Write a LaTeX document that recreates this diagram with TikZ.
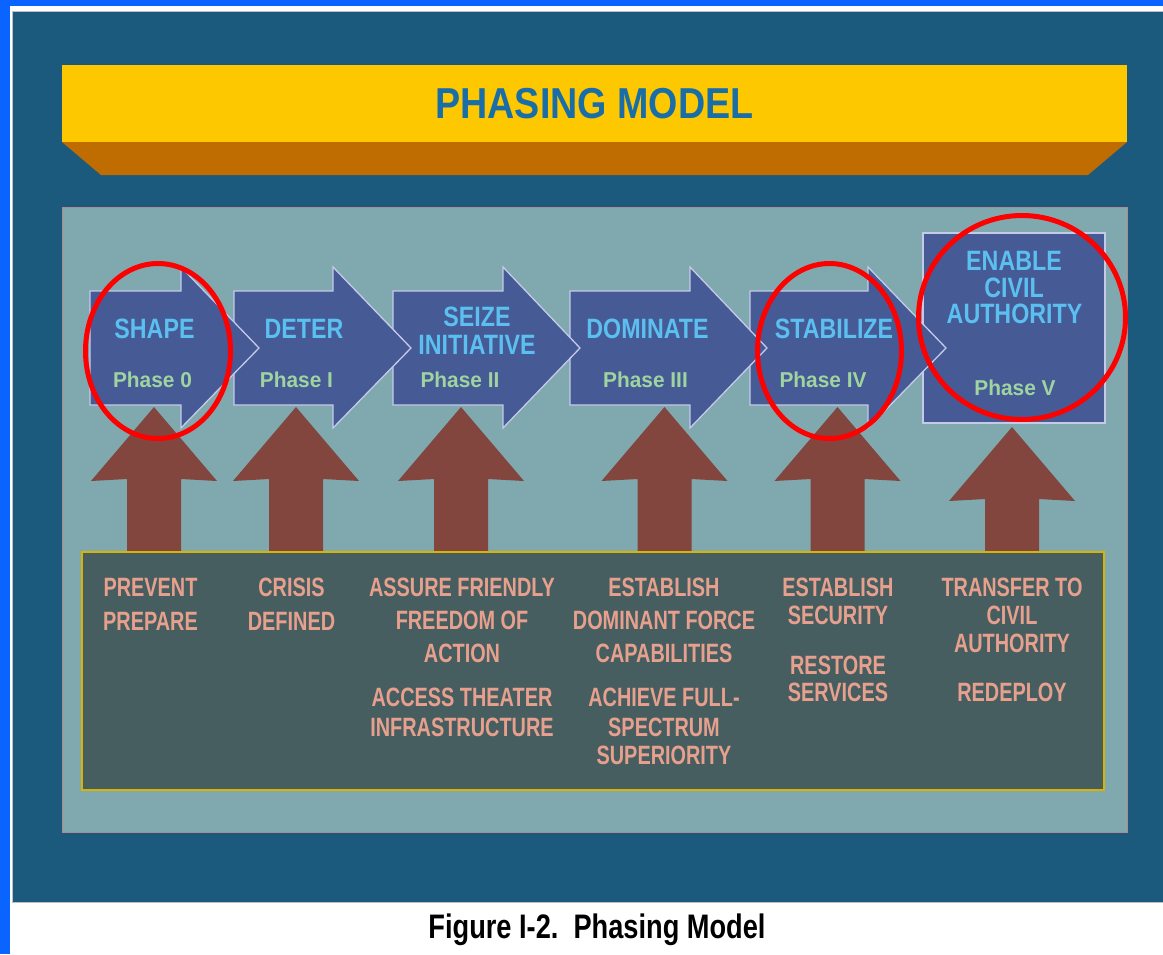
\documentclass[tikz,border=0pt]{standalone}
\usepackage{fontspec}
\setmainfont{Liberation Sans}
\newfontfamily\ftitle[FakeStretch=0.87]{Liberation Sans}
\newfontfamily\ftop[FakeStretch=0.83]{Liberation Sans}
\newfontfamily\fphase[FakeStretch=0.97]{Liberation Sans}
\newfontfamily\fbot[FakeStretch=0.75]{Liberation Sans}
\newfontfamily\fcap[FakeStretch=0.80]{Liberation Sans}
\definecolor{outerblue}{HTML}{0A64FF}
\definecolor{panel}{HTML}{1B5A7D}
\definecolor{banner}{HTML}{FEC800}
\definecolor{bannerside}{HTML}{BF6C00}
\definecolor{lteal}{HTML}{7FA9AE}
\definecolor{ltealedge}{HTML}{B08A8E}
\definecolor{darkbox}{HTML}{465E5F}
\definecolor{darkboxedge}{HTML}{D8B400}
\definecolor{arrowfill}{HTML}{465A96}
\definecolor{arrowedge}{HTML}{C4CAE8}
\definecolor{brownarrow}{HTML}{82463F}
\definecolor{ringred}{HTML}{FF0000}
\definecolor{phasename}{HTML}{5BBFEF}
\definecolor{phasenum}{HTML}{9FD4A0}
\definecolor{salmon}{HTML}{E8A08E}
\definecolor{titleblue}{HTML}{1A6EA8}
\tikzset{
  bluearrow/.style={fill=arrowfill, draw=arrowedge, line width=1.3pt, line join=miter},
  brownup/.style={fill=brownarrow},
  ring/.style={draw=ringred, line width=5pt},
  nametext/.style={inner sep=0pt, anchor=base, text=phasename, font=\ftop\bfseries\fontsize{28}{28}\selectfont},
  numtext/.style={inner sep=0pt, anchor=base, text=phasenum, font=\fphase\bfseries\fontsize{21.5}{21.5}\selectfont},
  bottext/.style={inner sep=0pt, anchor=base, text=salmon, font=\fbot\bfseries\fontsize{26.5}{26.5}\selectfont},
}
\newcommand\phBlueArrow[3]{\filldraw[bluearrow] (#1,291) -- (#2,291) -- (#2,267) -- (#3,348) -- (#2,428) -- (#2,405) -- (#1,405) -- cycle;}
\newcommand\phBrownArrow[3]{\fill[brownup] (#1,#2) -- ({#1+63},#3) -- ({#1+27},{#3-2}) -- ({#1+27},552) -- ({#1-27},552) -- ({#1-27},{#3-2}) -- ({#1-63},#3) -- cycle;}
\begin{document}
\begin{tikzpicture}[x=1pt,y=-1pt]
\useasboundingbox (0,0) rectangle (1163,954);
\fill[white] (0,0) rectangle (1163,954);
\fill[outerblue] (0,0) rectangle (10,954);
\fill[outerblue] (0,0) rectangle (1163,6);
\fill[panel] (12,11) rectangle (1163,902);
\draw[black!25, line width=0.8pt] (1163,11) -- (12,11) -- (12,902) -- (1163,902);
% banner
\fill[bannerside] (62,142) -- (1127,142) -- (1088,175) -- (101,175) -- cycle;
\fill[banner] (62,65) rectangle (1127,142);
\node[inner sep=0pt, anchor=base, text=titleblue, font=\ftitle\bfseries\fontsize{43.3}{43.3}\selectfont] (title) at (594.5,118) {PHASING MODEL};
% light teal area
\filldraw[fill=lteal, draw=ltealedge, line width=0.8pt] (62,207) rectangle (1127,832);
% brown up arrows
\phBrownArrow{154}{407}{481}
\phBrownArrow{296}{407}{481}
\phBrownArrow{461}{407}{481}
\phBrownArrow{664.5}{407}{481}
\phBrownArrow{837.5}{407}{481}
\phBrownArrow{1012}{427}{501}
% dark box
\filldraw[fill=darkbox, draw=darkboxedge, line width=1.2pt] (82,552) rectangle (1104,790);
% phase V box
\filldraw[bluearrow] (923,233) rectangle (1105,423);
% phase arrows (drawn right to left)
\phBlueArrow{750}{868}{946}
\phBlueArrow{570}{690}{767}
\phBlueArrow{393}{503}{580}
\phBlueArrow{234}{333}{411}
\phBlueArrow{90}{181}{259}
% arrow texts
\node[nametext] (t1) at (154.5,338) {SHAPE};
\node[numtext] (p1) at (152.5,387) {Phase 0};
\node[nametext] (t2) at (304,338) {DETER};
\node[numtext] (p2) at (296.5,387) {Phase I};
\node[nametext] (t3a) at (477,326) {SEIZE};
\node[nametext] (t3b) at (477,354) {INITIATIVE};
\node[numtext] (p3) at (460,387) {Phase II};
\node[nametext] (t4) at (647.5,338) {DOMINATE};
\node[numtext] (p4) at (645.5,387) {Phase III};
\node[nametext] (t5) at (834,338) {STABILIZE};
\node[numtext] (p5) at (823,387) {Phase IV};
\node[nametext] (t6a) at (1014,270) {ENABLE};
\node[nametext] (t6b) at (1014,297) {CIVIL};
\node[nametext] (t6c) at (1014.5,323) {AUTHORITY};
\node[numtext] (p6) at (1015,395) {Phase V};
% bottom texts
\foreach \x/\y/\t [count=\i] in {
  150.5/596/PREVENT, 150.5/630/PREPARE,
  291.5/596/CRISIS, 291.5/630/DEFINED,
  462/596/ASSURE FRIENDLY, 462/629/FREEDOM OF, 462/662/ACTION/, 462/706/ACCESS THEATER, 462/736/INFRASTRUCTURE,
  664/596/ESTABLISH, 664/629/DOMINANT FORCE, 664/662/CAPABILITIES/, 664/706/ACHIEVE FULL-, 664/736/SPECTRUM, 664/764/SUPERIORITY,
  838/596/ESTABLISH, 838/624/SECURITY, 838/674/RESTORE, 838/701/SERVICES,
  1012/596/TRANSFER TO, 1012/624/CIVIL, 1012/652/AUTHORITY, 1012/701/REDEPLOY}
  \node[bottext] (b\i) at (\x,\y) {\t};
% red rings
\draw[ring] (158,351) ellipse [x radius=72.5pt, y radius=87.5pt];
\draw[ring] (829.5,351) ellipse [x radius=72pt, y radius=87.5pt];
\draw[ring] (1022,317.5) ellipse [x radius=103.5pt, y radius=102pt];
% caption
\node[inner sep=0pt, anchor=base, text=black, font=\fcap\bfseries\fontsize{34}{34}\selectfont] (caption) at (597,938) {Figure I-2.\ \ Phasing Model};
\end{tikzpicture}
\end{document}
